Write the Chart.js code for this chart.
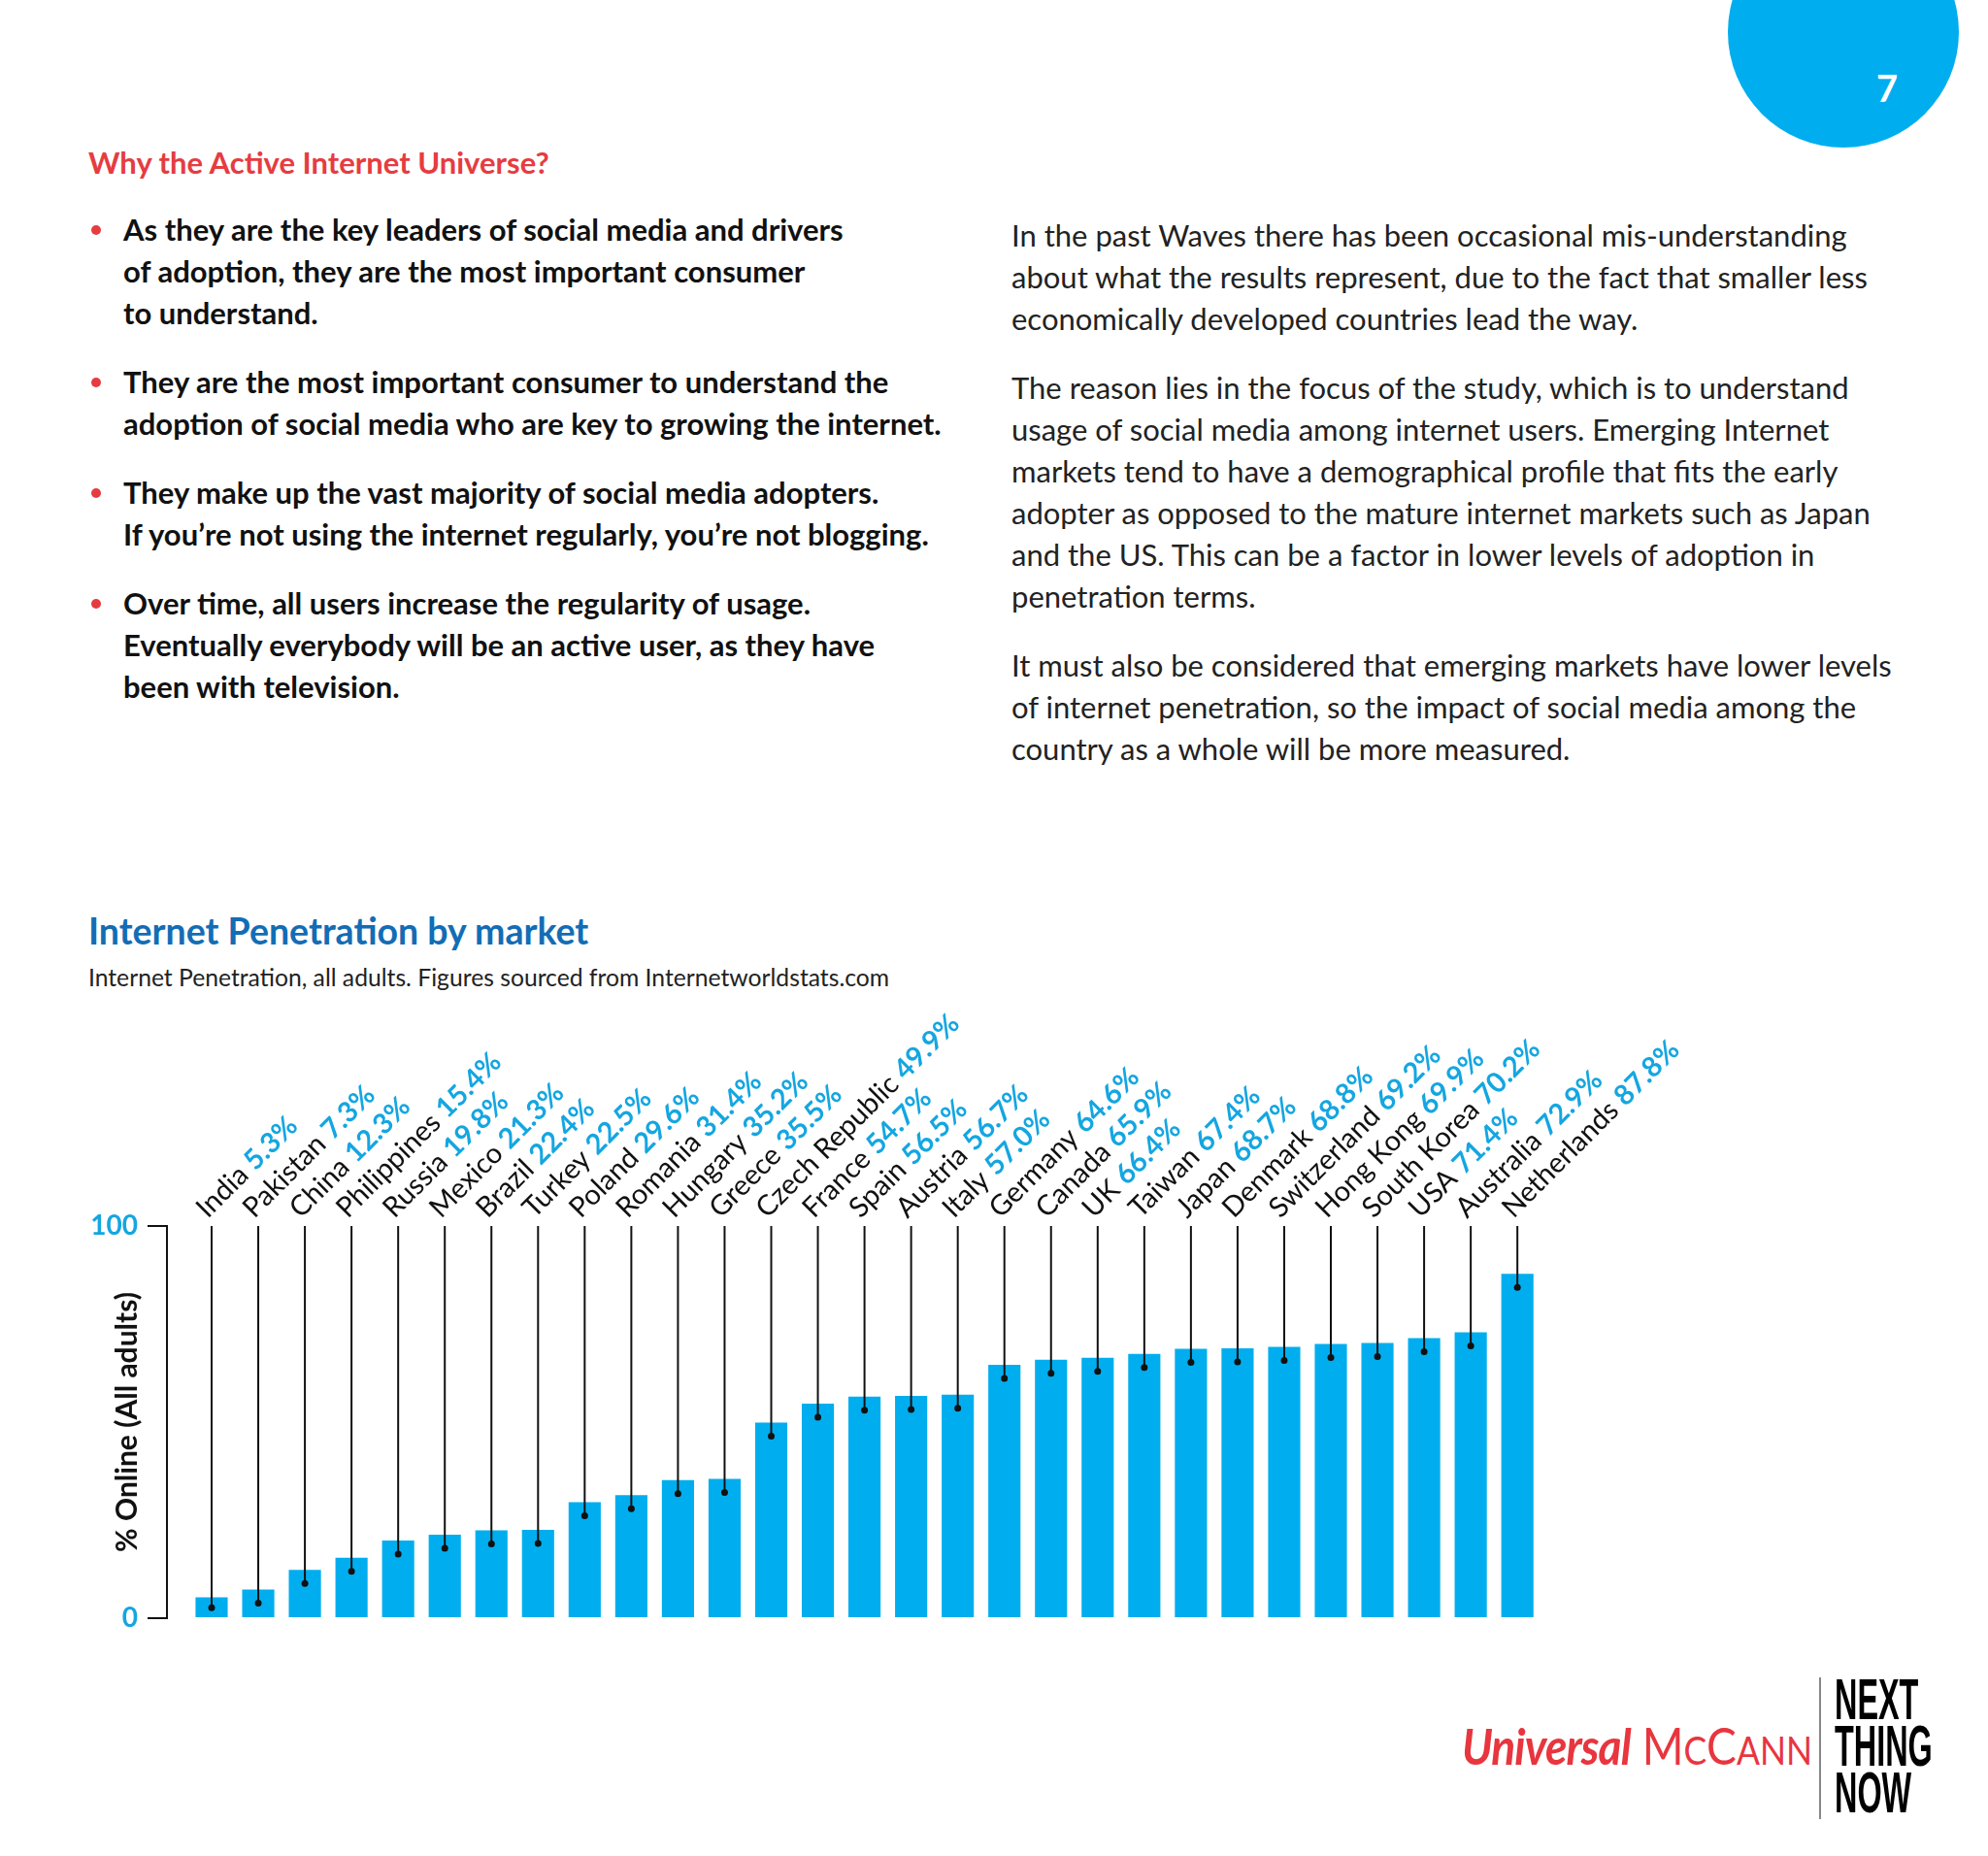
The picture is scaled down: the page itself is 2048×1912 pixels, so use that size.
<!DOCTYPE html>
<html>
<head>
<meta charset="utf-8">
<script src="https://cdn.jsdelivr.net/npm/chart.js@4.4.1/dist/chart.umd.min.js"></script>
<style>
  html, body { margin: 0; padding: 0; background: #fff; }
  body { width: 2048px; height: 1912px; position: relative; overflow: hidden; font-family: Lato, "Noto Sans", sans-serif; }
  .abs { position: absolute; white-space: nowrap; }
  .circle { position: absolute; left: 1780px; top: -86px; width: 238px; height: 238px; border-radius: 50%; background: #00aeef; }
  .pagenum { position: absolute; left: 1933px; top: 66px; color: #fff; font-size: 38px; font-weight: bold; line-height: 48px; }
  .heading { left: 91px; top: 146px; color: #e63c41; font-size: 31px; font-weight: bold; line-height: 43px; }
  .left { left: 127px; top: 215px; font-size: 31px; font-weight: bold; color: #111; line-height: 43px; }
  .left p { margin: 0 0 28px 0; position: relative; }
  .left p::before { content: ""; position: absolute; left: -33px; top: 17px; width: 10px; height: 10px; border-radius: 50%; background: #e63c41; }
  .right { left: 1042px; top: 221px; font-size: 31px; color: #222; line-height: 43px; }
  .right p { margin: 0 0 28px 0; }
  .ctitle { left: 91px; top: 937px; color: #136db5; font-size: 37.5px; font-weight: bold; line-height: 44px; }
  .csub { left: 91px; top: 992px; color: #222; font-size: 24.7px; line-height: 30px; }
  #chart { position: absolute; left: 0; top: 1000px; }
  .logo1 { left: 1506px; top: 1770px; color: #e8353e; font-size: 52px; line-height: 56px; transform: scaleX(0.886); transform-origin: left top; }
  .logo1 b { font-style: italic; letter-spacing: -1px; }
  .vline { position: absolute; left: 1874px; top: 1728px; width: 2px; height: 146px; background: #888; }
  .ntn { left: 1890px; top: 1727px; font-family: "Liberation Sans Narrow", "Liberation Sans", sans-serif; font-weight: bold; font-size: 60px; line-height: 48px; color: #000; transform: scaleX(0.54); transform-origin: left top; }
</style>
</head>
<body>
<div class="circle"></div>
<div class="pagenum">7</div>

<div class="abs heading">Why the Active Internet Universe?</div>

<div class="abs left">
  <p>As they are the key leaders of social media and drivers<br>of adoption, they are the most important consumer<br>to understand.</p>
  <p>They are the most important consumer to understand the<br>adoption of social media who are key to growing the internet.</p>
  <p>They make up the vast majority of social media adopters.<br>If you’re not using the internet regularly, you’re not blogging.</p>
  <p>Over time, all users increase the regularity of usage.<br>Eventually everybody will be an active user, as they have<br>been with television.</p>
</div>

<div class="abs right">
  <p>In the past Waves there has been occasional mis-understanding<br>about what the results represent, due to the fact that smaller less<br>economically developed countries lead the way.</p>
  <p>The reason lies in the focus of the study, which is to understand<br>usage of social media among internet users. Emerging Internet<br>markets tend to have a demographical profile that fits the early<br>adopter as opposed to the mature internet markets such as Japan<br>and the US. This can be a factor in lower levels of adoption in<br>penetration terms.</p>
  <p>It must also be considered that emerging markets have lower levels<br>of internet penetration, so the impact of social media among the<br>country as a whole will be more measured.</p>
</div>

<div class="abs ctitle">Internet Penetration by market</div>
<div class="abs csub">Internet Penetration, all adults. Figures sourced from Internetworldstats.com</div>

<canvas id="chart" width="1900" height="720"></canvas>

<div class="abs logo1"><b>Universal</b> M<span style="font-size:40px">C</span>C<span style="font-size:40px">ANN</span></div>
<div class="vline"></div>
<div class="abs ntn">NEXT<br>THING<br>NOW</div>

<script>
const countries = ['India', 'Pakistan', 'China', 'Philippines', 'Russia', 'Mexico', 'Brazil', 'Turkey',
    'Poland', 'Romania', 'Hungary', 'Greece', 'Czech Republic', 'France', 'Spain', 'Austria', 'Italy',
    'Germany', 'Canada', 'UK', 'Taiwan', 'Japan', 'Denmark', 'Switzerland', 'Hong Kong', 'South Korea',
    'USA', 'Australia', 'Netherlands'];
const penetration = [5.3, 7.3, 12.3, 15.4, 19.8, 21.3, 22.4, 22.5, 29.6, 31.4, 35.2, 35.5, 49.9, 54.7,
    56.5, 56.7, 57.0, 64.6, 65.9, 66.4, 67.4, 68.7, 68.8, 69.2, 69.9, 70.2, 71.4, 72.9, 87.8];
const yTicks = [0, 100];

const BLUE = '#00aeef';
const FONT = 'Lato, "Noto Sans", sans-serif';

// leader lines, dots and the slanted country / value labels
const leaderLabels = {
    id: 'leaderLabels',
    afterDatasetsDraw(chart) {
        const ctx = chart.ctx;
        const xs = chart.scales.x;
        const ys = chart.scales.y;
        const meta = chart.getDatasetMeta(0);
        const top = ys.getPixelForValue(100);
        const base = ys.getPixelForValue(0);
        ctx.save();
        countries.forEach(function (name, i) {
            const x = xs.getPixelForValue(i);
            const barTop = meta.data[i].y;
            const dotY = barTop + Math.min(14, (base - barTop) / 2);
            ctx.strokeStyle = '#111';
            ctx.lineWidth = 2;
            ctx.beginPath();
            ctx.moveTo(x, top);
            ctx.lineTo(x, dotY);
            ctx.stroke();
            ctx.fillStyle = '#111';
            ctx.beginPath();
            ctx.arc(x, dotY, 3.5, 0, Math.PI * 2);
            ctx.fill();

            ctx.save();
            ctx.translate(x - 4, top - 7);
            ctx.rotate(-Math.PI / 4);
            ctx.textBaseline = 'alphabetic';
            ctx.textAlign = 'left';
            ctx.font = '29px ' + FONT;
            ctx.fillStyle = '#111';
            ctx.fillText(name + ' ', 0, 0);
            const w = ctx.measureText(name + ' ').width;
            ctx.font = 'bold 29px ' + FONT;
            ctx.fillStyle = '#14a6e1';
            ctx.fillText(penetration[i].toFixed(1) + '%', w, 0);
            ctx.restore();
        });
        ctx.restore();
    }
};

new Chart(document.getElementById('chart'), {
    type: 'bar',
    data: {
        datasets: [{
            data: countries.map(function (c, i) { return { x: i, y: penetration[i] }; }),
            backgroundColor: BLUE,
            borderWidth: 0,
            barPercentage: 0.69,
            categoryPercentage: 1
        }]
    },
    options: {
        responsive: false,
        animation: false,
        layout: { padding: { top: 263, bottom: 53, left: 0, right: 308 } },
        plugins: { legend: { display: false }, tooltip: { enabled: false } },
        scales: {
            x: {
                type: 'linear',
                min: -0.9575,
                max: 28.6,
                offset: false,
                display: false
            },
            y: {
                min: 0,
                max: 100,
                afterFit: function (scale) { scale.width = 172; },
                afterBuildTicks: function (scale) { scale.ticks = yTicks.map(function (v) { return { value: v }; }); },
                ticks: {
                    color: '#14a6e1',
                    padding: 10,
                    font: { family: FONT, size: 28, weight: 'bold' }
                },
                grid: {
                    drawOnChartArea: false,
                    drawTicks: true,
                    tickLength: 20,
                    color: '#111',
                    lineWidth: 2
                },
                border: { display: true, color: '#111', width: 2 },
                title: {
                    display: true,
                    text: '% Online (All adults)',
                    color: '#111',
                    padding: { top: 113, bottom: 0 },
                    font: { family: FONT, size: 30, weight: 'bold' }
                }
            }
        }
    },
    plugins: [leaderLabels]
});
</script>
</body>
</html>
